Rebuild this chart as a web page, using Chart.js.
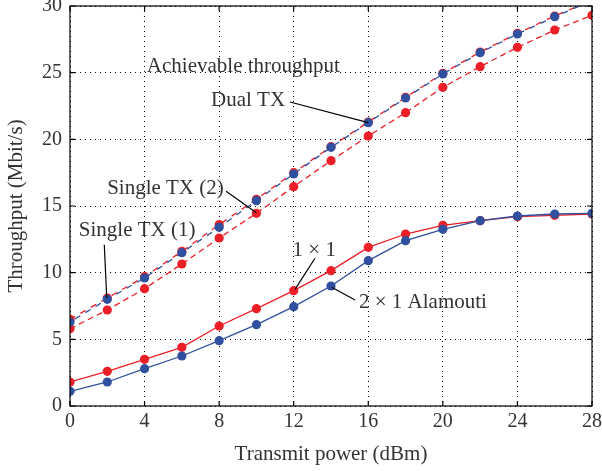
<!DOCTYPE html>
<html>
<head>
<meta charset="utf-8">
<script src="https://cdn.jsdelivr.net/npm/chart.js@4"></script>
<style>
  html, body { margin: 0; padding: 0; background: #fff; }
  #wrap { width: 602px; height: 471px; position: relative; }
</style>
</head>
<body>
<div id="wrap"><canvas id="chart"></canvas></div>
<script>
// ── throughput vs transmit power ─────────────────────────────
const power = [0, 2, 4, 6, 8, 10, 12, 14, 16, 18, 20, 22, 24, 26, 28];

const dualTx    = [6.3, 8.0, 9.6, 11.5, 13.4, 15.4, 17.4, 19.4, 21.25, 23.1, 24.9, 26.5, 27.9, 29.2, 30.4];
const singleTx1 = [6.5, 8.1, 9.7, 11.6, 13.6, 15.5, 17.5, 19.45, 21.3, 23.15, 24.95, 26.55, 27.95, 29.25, 30.45];
const singleTx2 = [5.8, 7.2, 8.8, 10.65, 12.6, 14.45, 16.45, 18.4, 20.25, 22.0, 23.9, 25.45, 26.9, 28.2, 29.3];
const oneByOne  = [1.8, 2.6, 3.5, 4.4, 6.0, 7.3, 8.65, 10.15, 11.9, 12.9, 13.55, 13.9, 14.2, 14.3, 14.4];
const alamouti  = [1.1, 1.8, 2.8, 3.75, 4.9, 6.1, 7.45, 9.0, 10.9, 12.4, 13.25, 13.9, 14.25, 14.4, 14.45];

const xTicks = [0, 4, 8, 12, 16, 20, 24, 28];
const yTicks = [0, 5, 10, 15, 20, 25, 30];

// text labels with leader lines: [text, textX, textY, align, fromX, fromY, toX, toY]
const notes = [
    ['Achievable throughput', 9.3, 25.5, 'center', null, null, null, null],
    ['Dual TX', 9.55, 22.95, 'center', 11.8, 22.8, 16, 21.25],
    ['Single TX (2)', 5.12, 16.3, 'center', 8.37, 16.1, 10, 14.5],
    ['Single TX (1)', 3.6, 13.2, 'center', 1.84, 12.1, 1.97, 8.1],
    ['1 \u00d7 1', 13.1, 11.7, 'center', 13.14, 11.08, 12.07, 8.75],
    ['2 \u00d7 1 Alamouti', 15.5, 7.73, 'left', 15.29, 7.95, 14.04, 8.9]
];

const RED = '#ec1f26';
const BLUE = '#2f4f9f';
const INK = '#333333';
const FONT = '"Liberation Serif", "DejaVu Serif", serif';

function pts(ys) { return ys.map((y, i) => ({ x: power[i], y })); }

function series(label, ys, color, dash, dashOffset, order) {
    return {
        label,
        data: pts(ys),
        borderColor: color,
        backgroundColor: color,
        pointBackgroundColor: color,
        pointBorderColor: color,
        borderWidth: 1.3,
        borderDash: dash,
        borderDashOffset: dashOffset,
        pointRadius: 4.6,
        pointBorderWidth: 0,
        pointHoverRadius: 4.6,
        tension: 0,
        order
    };
}

const datasets = [
    series('Single TX (1)', singleTx1, RED, [6, 6], 0, 2),
    series('Dual TX', dualTx, BLUE, [6, 6], 6, 1),
    series('Single TX (2)', singleTx2, RED, [6, 4], 0, 3),
    series('1 x 1', oneByOne, RED, [], 0, 5),
    series('2 x 1 Alamouti', alamouti, BLUE, [], 0, 4)
];

// frame, inward tick marks and annotations
const framePlugin = {
    id: 'frame',
    afterDatasetsDraw(chart) {
        const { ctx, chartArea: a, scales: { x, y } } = chart;
        ctx.save();
        ctx.strokeStyle = '#000';
        ctx.lineWidth = 1.2;
        ctx.setLineDash([]);
        ctx.strokeRect(a.left, a.top, a.right - a.left, a.bottom - a.top);
        ctx.beginPath();
        xTicks.forEach(v => {
            const px = x.getPixelForValue(v);
            ctx.moveTo(px, a.bottom); ctx.lineTo(px, a.bottom - 5);
            ctx.moveTo(px, a.top); ctx.lineTo(px, a.top + 5);
        });
        yTicks.forEach(v => {
            const py = y.getPixelForValue(v);
            ctx.moveTo(a.left, py); ctx.lineTo(a.left + 5, py);
            ctx.moveTo(a.right, py); ctx.lineTo(a.right - 5, py);
        });
        ctx.stroke();

        ctx.font = '21px ' + FONT;
        ctx.fillStyle = INK;
        ctx.textBaseline = 'middle';
        ctx.lineWidth = 1.2;
        notes.forEach(([t, tx, ty, align, fx, fy, ex, ey]) => {
            ctx.textAlign = align;
            ctx.fillText(t, x.getPixelForValue(tx), y.getPixelForValue(ty));
            if (fx !== null) {
                ctx.beginPath();
                ctx.moveTo(x.getPixelForValue(fx), y.getPixelForValue(fy));
                ctx.lineTo(x.getPixelForValue(ex), y.getPixelForValue(ey));
                ctx.stroke();
            }
        });
        ctx.restore();
    }
};

new Chart(document.getElementById('chart'), {
    type: 'line',
    data: { datasets },
    plugins: [framePlugin],
    options: {
        animation: false,
        responsive: true,
        maintainAspectRatio: false,
        layout: { padding: { top: 6, right: 10, left: 0, bottom: 0 } },
        plugins: { legend: { display: false }, tooltip: { enabled: false } },
        scales: {
            x: {
                type: 'linear',
                min: 0, max: 28,
                afterBuildTicks: s => { s.ticks = xTicks.map(v => ({ value: v })); },
                afterFit: s => { s.height = 65; s.paddingLeft = 0; s.paddingRight = 0; },
                ticks: { color: INK, font: { family: FONT, size: 20 }, padding: 4, maxRotation: 0 },
                grid: { color: '#000', lineWidth: 1, drawTicks: false },
                border: { display: false, dash: [1, 4] },
                title: { display: true, text: 'Transmit power (dBm)', color: INK, font: { family: FONT, size: 21 }, padding: { top: 2 } }
            },
            y: {
                min: 0, max: 30,
                afterBuildTicks: s => { s.ticks = yTicks.map(v => ({ value: v })); },
                afterFit: s => { s.width = 70; s.paddingTop = 0; s.paddingBottom = 0; },
                ticks: { color: INK, font: { family: FONT, size: 20 }, padding: 8 },
                grid: { color: '#000', lineWidth: 1, drawTicks: false },
                border: { display: false, dash: [1, 4] },
                title: { display: true, text: 'Throughput (Mbit/s)', color: INK, font: { family: FONT, size: 21 }, padding: { left: 11 } }
            }
        }
    }
});
</script>
</body>
</html>
